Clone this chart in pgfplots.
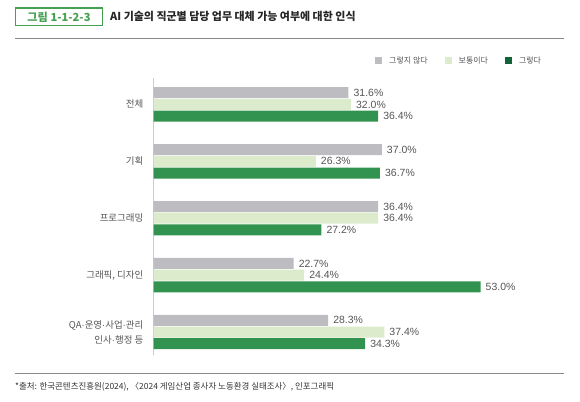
\documentclass[border=0pt]{standalone}
\usepackage{fontspec}
\setmainfont{Liberation Sans}
\newfontfamily\kr{Noto Sans CJK KR}
\newfontfamily\lat{Liberation Sans}
\newcommand\md{{\lat ·}}
\usepackage{pgfplots}
\usepackage{pgfplotstable}
\pgfplotsset{compat=1.18}
\definecolor{cgray}{HTML}{BCBCC1}
\definecolor{clight}{HTML}{DCEBCC}
\definecolor{cdark}{HTML}{32924F}
\definecolor{cdarkleg}{HTML}{12633A}
\definecolor{cgreen}{HTML}{45A052}
\definecolor{ctext}{HTML}{555555}
\definecolor{cline}{HTML}{8A8A8A}
\definecolor{caxis}{HTML}{CCCCCC}

\pgfplotstableread{
y v
4 31.6
3 37.0
2 36.4
1 22.7
0 28.3
}\tgray
\pgfplotstableread{
y v
4 32.0
3 26.3
2 36.4
1 24.4
0 37.4
}\tlight
\pgfplotstableread{
y v
4 36.4
3 36.7
2 27.2
1 53.0
0 34.3
}\tdark

\begin{document}
\begin{tikzpicture}[x=1bp,y=1bp]
\useasboundingbox (0,0) rectangle (580,401);
% title
\draw[cgreen, line width=1.3bp] (15.5,375.5) rectangle (102.5,393);
\node[anchor=center, text=cgreen, font=\kr\bfseries\fontsize{11.2}{12}\selectfont, inner sep=0pt] at (59,384.2) {그림 1-1-2-3};
\node[anchor=west, text=black!85, font=\kr\bfseries\fontsize{11}{12}\selectfont, inner sep=0pt] at (110,384.2) {AI 기술의 직군별 담당 업무 대체 가능 여부에 대한 인식};
\draw[cline, line width=0.9bp] (15,362.7) -- (564,362.7);
% footer
\draw[cline, line width=0.9bp] (15,28) -- (564,28);
\node[anchor=west, text=black!80, font=\kr\fontsize{8.5}{10}\selectfont, inner sep=0pt] at (15,14) {*출처: 한국콘텐츠진흥원(2024), 〈2024 게임산업 종사자 노동환경 실태조사〉, 인포그래픽};

\begin{axis}[
  at={(153.5bp,46bp)}, anchor=south west,
  scale only axis, width=419.56bp, height=277.1bp,
  xmin=0, xmax=68, ymin=-0.404, ymax=4.466,
  hide x axis,
  axis y line*=left,
  y axis line style={draw=caxis, line width=0.9bp},
  ytick={0,1,2,3,4},
  yticklabels={{QA\md 운영\md 사업\md 관리\\인사\md 행정 등},{그래픽, 디자인},프로그래밍,기획,전체},
  major tick length=0pt,
  yticklabel style={font=\kr\fontsize{9.5}{15}\selectfont, text=ctext, align=right, inner sep=0pt, xshift=-10bp},
  clip=false,
  point meta=x,
  /pgf/number format/assume math mode=true,
  nodes near coords={\pgfmathprintnumber[fixed,fixed zerofill,precision=1]{\pgfplotspointmeta}\%},
  every node near coord/.append style={font=\fontsize{10.5}{12}\selectfont, text=ctext, anchor=west, inner sep=0pt, xshift=5bp},
  legend image code/.code={\fill[#1] (0bp,-3.5bp) rectangle (7bp,3.5bp);},
  legend style={at={(0.528,1.061)}, anchor=west, draw=none, fill=none, inner sep=0pt,
    font=\kr\fontsize{8}{10}\selectfont, text=ctext,
    nodes={inner sep=0pt},
    /tikz/every odd column/.append style={column sep=7bp},
    /tikz/every even column/.append style={column sep=17bp}},
  legend columns=3,
]
\addplot[xbar, bar width=11bp, bar shift=11.7bp, fill=cgray, draw=none, forget plot,
  every node near coord/.append style={yshift=11.7bp}] table[x=v,y=y]{\tgray};
\addplot[xbar, bar width=11bp, bar shift=0bp, fill=clight, draw=none, forget plot,
  every node near coord/.append style={yshift=0bp}] table[x=v,y=y]{\tlight};
\addplot[xbar, bar width=11bp, bar shift=-11.7bp, fill=cdark, draw=none, forget plot,
  every node near coord/.append style={yshift=-11.7bp}] table[x=v,y=y]{\tdark};
\addlegendimage{fill=cgray, draw=none}
\addlegendentry{그렇지 않다}
\addlegendimage{fill=clight, draw=none}
\addlegendentry{보통이다}
\addlegendimage{fill=cdarkleg, draw=none}
\addlegendentry{그렇다}
\end{axis}
\end{tikzpicture}
\end{document}
